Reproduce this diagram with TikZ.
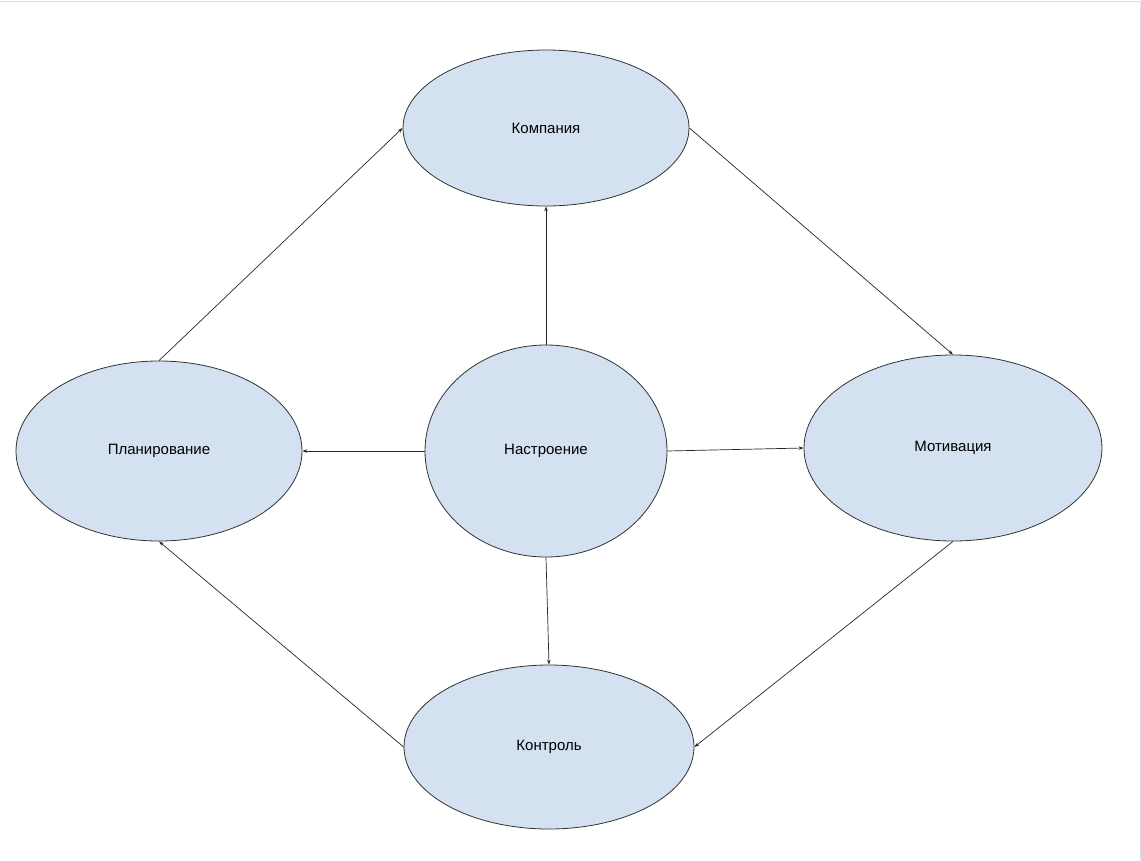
\documentclass[tikz,border=0pt]{standalone}
\usepackage{fontspec}
\setmainfont{Liberation Sans}
\usetikzlibrary{shapes.geometric,arrows.meta}
\begin{document}
\begin{tikzpicture}[x=1pt,y=-1pt,
  el/.style={ellipse,draw=black!80,fill=blue!10!cyan!8!white,fill=bub,line width=0.8pt,font=\fontsize{15}{18}\selectfont},
  ar/.style={draw=black!85,line width=0.7pt,-{Stealth[length=5pt,width=3.5pt]}}]
\definecolor{bub}{HTML}{D3E1F0}
\useasboundingbox (0,0) rectangle (1141,860);
\draw[black!12] (0,1) -- (1140,1) -- (1140,860);
\node[el,minimum width=286pt,minimum height=156pt] (k) at (546,128) {Компания};
\node[el,minimum width=286pt,minimum height=180pt] (p) at (159,451) {Планирование};
\node[el,minimum width=242pt,minimum height=212pt] (n) at (546,451) {Настроение};
\node[el,minimum width=298pt,minimum height=186pt] (m) at (953,448) {Мотивация};
\node[el,minimum width=290pt,minimum height=164pt] (c) at (549,747) {Контроль};
\draw[ar] (p.north) -- (k.west);
\draw[ar] (k.east) -- (m.north);
\draw[ar] (n.north) -- (k.south);
\draw[ar] (n.west) -- (p.east);
\draw[ar] (n.east) -- (m.west);
\draw[ar] (n.south) -- (c.north);
\draw[ar] (m.south) -- (c.east);
\draw[ar] (c.west) -- (p.south);
\end{tikzpicture}
\end{document}
